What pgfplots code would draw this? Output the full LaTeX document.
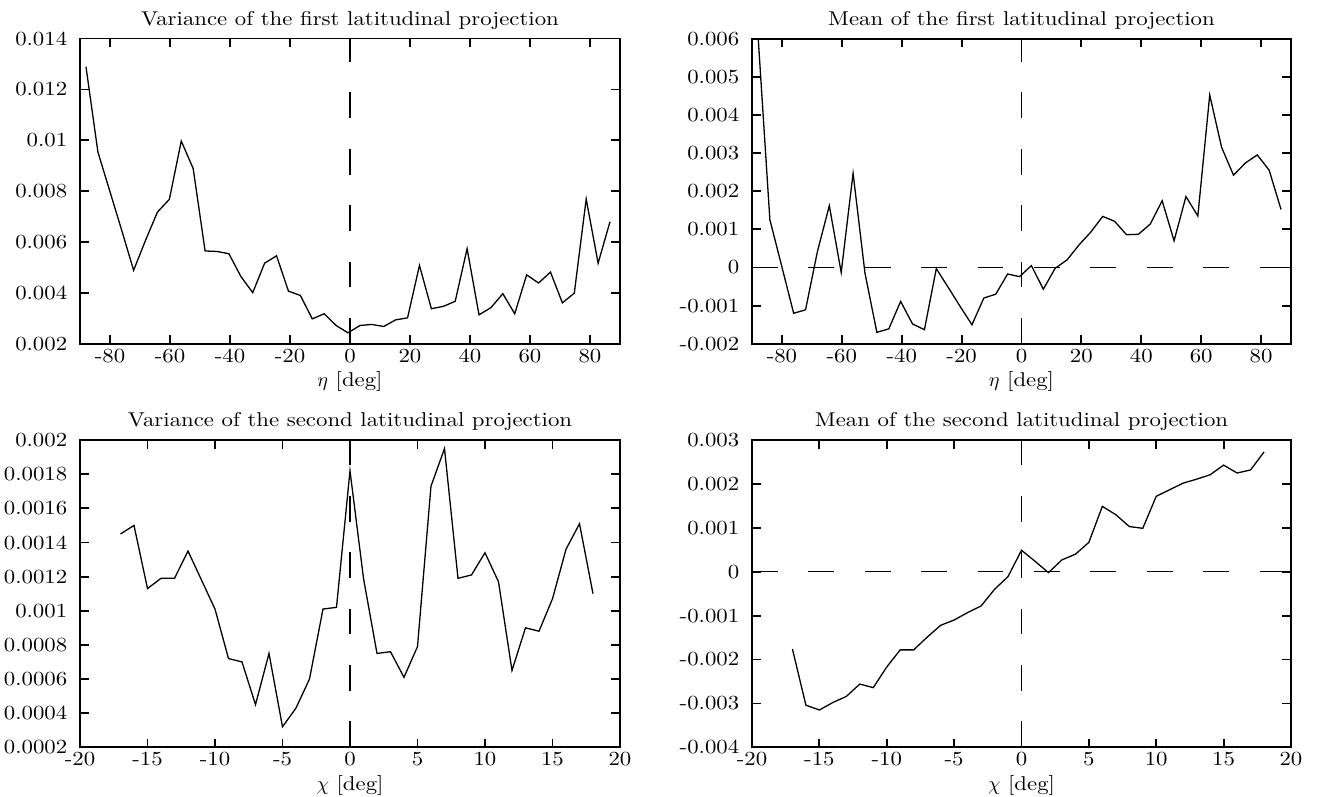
\documentclass[border=0pt]{standalone}
\usepackage{fontspec}
\setmainfont{lmroman10-regular.otf}[FakeStretch=1.14]
\usepackage{pgfplots}
\usepackage{pgfplotstable}
\pgfplotsset{compat=1.18}

% first latitudinal projection: eta [deg], variance, mean
\pgfplotstableread{
eta     var      mean
-88     0.01289  0.0061
-84.03  0.00954  0.00125
-80.06  0.0080   0.00003
-76.09  0.00646  -0.0012
-72.12  0.00489  -0.00111
-68.15  0.00607  0.00042
-64.18  0.00718  0.00162
-60.21  0.00768  -0.00013
-56.24  0.00997  0.00247
-52.27  0.00889  -0.00015
-48.3   0.00565  -0.0017
-44.33  0.00563  -0.00161
-40.36  0.00554  -0.00089
-36.39  0.00465  -0.00148
-32.42  0.00401  -0.00163
-28.45  0.00517  -0.00003
-24.48  0.00546  -0.00052
-20.51  0.00407  -0.00102
-16.54  0.0039   -0.0015
-12.57  0.00298  -0.0008
-8.6    0.00318  -0.0007
-4.63   0.00272  -0.00017
-0.66   0.00243  -0.00024
3.31    0.00272  0.00005
7.28    0.00276  -0.00057
11.25   0.00268  -0.00002
15.22   0.00294  0.0002
19.19   0.00302  0.00059
23.16   0.00508  0.00093
27.13   0.00338  0.00134
31.1    0.00347  0.00121
35.07   0.00367  0.00086
39.04   0.00574  0.00087
43.01   0.00314  0.00114
46.98   0.00342  0.00175
50.95   0.00397  0.0007
54.92   0.00318  0.00186
58.89   0.00471  0.00135
62.86   0.00439  0.00452
66.83   0.00482  0.00315
70.8    0.00361  0.00242
74.77   0.00399  0.00274
78.74   0.00769  0.00295
82.71   0.00517  0.00255
86.68   0.0068   0.00152
}\firstproj

% second latitudinal projection: chi [deg], variance, mean
\pgfplotstableread{
chi  var      mean
-17  0.00145  -0.00176
-16  0.0015   -0.00304
-15  0.00113  -0.00315
-14  0.00119  -0.00298
-13  0.00119  -0.00284
-12  0.00135  -0.00256
-11  0.00118  -0.00264
-10  0.00101  -0.00217
-9   0.00072  -0.00178
-8   0.0007   -0.00178
-7   0.00045  -0.00149
-6   0.00075  -0.00122
-5   0.00032  -0.0011
-4   0.00043  -0.00093
-3   0.0006   -0.00078
-2   0.00101  -0.0004
-1   0.00102  -0.00011
0    0.00182  0.00049
1    0.00119  0.00024
2    0.00075  -0.00002
3    0.00076  0.00027
4    0.00061  0.0004
5    0.00079  0.00067
6    0.00173  0.00149
7    0.00195  0.0013
8    0.00119  0.00103
9    0.00121  0.00099
10   0.00134  0.00172
11   0.00117  0.00187
12   0.00065  0.00202
13   0.0009   0.00211
14   0.00088  0.00221
15   0.00107  0.00243
16   0.00136  0.00225
17   0.00151  0.00232
18   0.0011   0.00273
}\secondproj

\pgfplotsset{
  gp/.style={
    scale only axis,
    axis line style={line width=0.9pt},
    every tick/.style={line width=0.9pt, black},
    major tick length=4.3pt,
    tick align=inside,
    scaled ticks=false,
    xticklabel style={anchor=base, yshift=-9.2pt, inner sep=0pt},
    yticklabel style={anchor=east, xshift=-6.2pt, inner sep=0pt},
    title style={at={(axis description cs:0.5,1)}, anchor=base, yshift=0.7pt, inner sep=0pt},
    xlabel style={at={(axis description cs:0.5,0)}, anchor=base, yshift=-21.5pt, inner sep=0pt},
  },
  eta axis/.style={gp, width=270pt, height=152.6pt,
    xmin=-90, xmax=90,
    xtick={-80,-60,-40,-20,0,20,40,60,80},
    xticklabels={-80,-60,-40,-20,0,20,40,60,80},
    xlabel={$\eta$ [deg]}},
  chi axis/.style={gp, width=270pt, height=153.6pt,
    xmin=-20, xmax=20,
    xtick={-20,-15,-10,-5,0,5,10,15,20},
    xticklabels={-20,-15,-10,-5,0,5,10,15,20},
    xlabel={$\chi$ [deg]}},
  curve/.style={black, line width=0.65pt, no markers},
  zeroline/.style={black, line width=0.7pt, dash pattern=on 12.9pt off 15.3pt, forget plot},
}

\begin{document}
\begin{tikzpicture}
\useasboundingbox (0,0) rectangle (659.5pt,398.5pt);

% variance, first projection
\begin{axis}[eta axis, at={(40pt,226.6pt)}, anchor=south west,
  ymin=0.002, ymax=0.014,
  ytick={0.002,0.004,0.006,0.008,0.01,0.012,0.014},
  yticklabels={0.002,0.004,0.006,0.008,0.01,0.012,0.014},
  title={Variance of the first latitudinal projection}]
  \addplot[zeroline] coordinates {(0,0.002) (0,0.014)};
  \addplot[curve] table[x=eta, y=var] {\firstproj};
\end{axis}

% mean, first projection
\begin{axis}[eta axis, at={(376pt,226.6pt)}, anchor=south west, width=269.5pt,
  ymin=-0.002, ymax=0.006,
  ytick={-0.002,-0.001,0,0.001,0.002,0.003,0.004,0.005,0.006},
  yticklabels={-0.002,-0.001,0,0.001,0.002,0.003,0.004,0.005,0.006},
  title={Mean of the first latitudinal projection}]
  \addplot[zeroline] coordinates {(0,-0.002) (0,0.006)};
  \addplot[zeroline] coordinates {(-90,0) (90,0)};
  \addplot[curve] table[x=eta, y=mean] {\firstproj};
\end{axis}

% variance, second projection
\begin{axis}[chi axis, at={(40pt,24.85pt)}, anchor=south west,
  ymin=0.0002, ymax=0.002,
  ytick={0.0002,0.0004,0.0006,0.0008,0.001,0.0012,0.0014,0.0016,0.0018,0.002},
  yticklabels={0.0002,0.0004,0.0006,0.0008,0.001,0.0012,0.0014,0.0016,0.0018,0.002},
  title={Variance of the second latitudinal projection}]
  \addplot[zeroline] coordinates {(0,0.0002) (0,0.002)};
  \addplot[curve] table[x=chi, y=var] {\secondproj};
\end{axis}

% mean, second projection
\begin{axis}[chi axis, at={(376pt,24.85pt)}, anchor=south west, width=269.5pt,
  ymin=-0.004, ymax=0.003,
  ytick={-0.004,-0.003,-0.002,-0.001,0,0.001,0.002,0.003},
  yticklabels={-0.004,-0.003,-0.002,-0.001,0,0.001,0.002,0.003},
  title={Mean of the second latitudinal projection}]
  \addplot[zeroline] coordinates {(0,-0.004) (0,0.003)};
  \addplot[zeroline] coordinates {(-20,0) (20,0)};
  \addplot[curve] table[x=chi, y=mean] {\secondproj};
\end{axis}
\end{tikzpicture}
\end{document}
